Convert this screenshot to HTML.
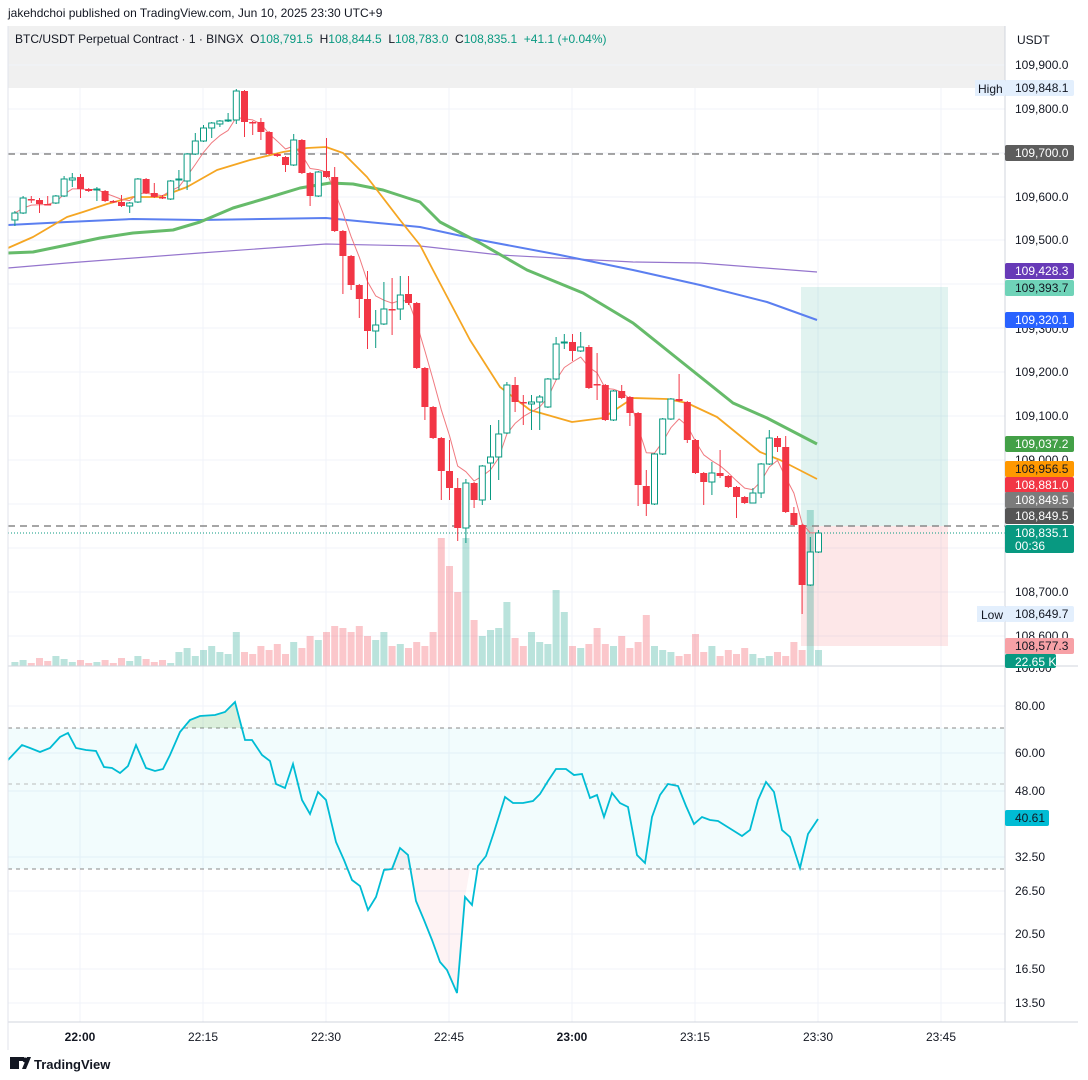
<!DOCTYPE html>
<html><head><meta charset="utf-8"><style>
body{margin:0;background:#fff;font-family:"Liberation Sans",sans-serif;}
svg{display:block}
</style></head><body>
<svg id="s" width="1088" height="1080" xmlns="http://www.w3.org/2000/svg" font-family="Liberation Sans, sans-serif">
<rect width="1088" height="1080" fill="#fff"/>
<text x="8" y="17" font-size="12" fill="#131722">jakehdchoi published on TradingView.com, Jun 10, 2025 23:30 UTC+9</text>
<rect x="8" y="26" width="997" height="62" fill="#f0f0f0"/>
<g id="grid" stroke="#f0f3fa" stroke-width="1"></g>
<rect x="801" y="287" width="147" height="239" fill="#089981" fill-opacity="0.12"/>
<rect x="801" y="526" width="147" height="120" fill="#f23645" fill-opacity="0.12"/>
<rect x="8" y="728" width="997" height="141" fill="#00bcd4" fill-opacity="0.05"/>
<g id="vol"></g>
<line x1="8" y1="154" x2="1005" y2="154" stroke="#888" stroke-width="1.5" stroke-dasharray="7,5"/>
<line x1="8" y1="526" x2="1005" y2="526" stroke="#888" stroke-width="1.5" stroke-dasharray="7,5"/>
<line x1="8" y1="533" x2="1005" y2="533" stroke="#089981" stroke-width="1" stroke-dasharray="1,2"/>
<g id="ma" fill="none"></g>
<g id="candles"></g>
<line x1="8" y1="728" x2="1005" y2="728" stroke="#888" stroke-dasharray="4,4"/>
<line x1="8" y1="784" x2="1005" y2="784" stroke="#bbb" stroke-dasharray="4,4"/>
<line x1="8" y1="869" x2="1005" y2="869" stroke="#888" stroke-dasharray="4,4"/>
<g id="rsi"></g>
<line x1="8" y1="666" x2="1078" y2="666" stroke="#d1d4dc"/>
<line x1="1005" y1="26" x2="1005" y2="1022" stroke="#d1d4dc"/>
<line x1="8" y1="1022" x2="1078" y2="1022" stroke="#d1d4dc"/>
<line x1="8" y1="26" x2="8" y2="1050" stroke="#e0e3eb"/>
<text x="15" y="43" font-size="12" fill="#131722">BTC/USDT Perpetual Contract · 1 · BINGX&#160;&#160;O<tspan fill="#089981">108,791.5</tspan>&#160;&#160;H<tspan fill="#089981">108,844.5</tspan>&#160;&#160;L<tspan fill="#089981">108,783.0</tspan>&#160;&#160;C<tspan fill="#089981">108,835.1</tspan>&#160;&#160;<tspan fill="#089981">+41.1 (+0.04%)</tspan></text>
<text x="1017" y="44" font-size="12" fill="#131722">USDT</text>
<g id="axis" font-size="12" fill="#131722"></g>
<g font-size="12" fill="#131722" text-anchor="middle">
<text x="80" y="1041" font-weight="bold">22:00</text><text x="203" y="1041">22:15</text><text x="326" y="1041">22:30</text><text x="449" y="1041">22:45</text><text x="572" y="1041" font-weight="bold">23:00</text><text x="695" y="1041">23:15</text><text x="818" y="1041">23:30</text><text x="941" y="1041">23:45</text>
</g>
<g transform="translate(10,1057)"><rect x="0" y="0" width="9" height="12" fill="#131722"/><rect x="6" y="0" width="8" height="4" fill="#131722"/><circle cx="15" cy="3" r="2.5" fill="#131722"/><path d="M12 12 L17 0 L21 0 L16 12Z" fill="#131722"/></g>
<text x="34" y="1069" font-size="13" font-weight="bold" fill="#131722">TradingView</text>
</svg>
<script>
const NS="http://www.w3.org/2000/svg";
function el(p,t,a,txt){const e=document.createElementNS(NS,t);for(const k in a)e.setAttribute(k,a[k]);if(txt!==undefined)e.textContent=txt;document.getElementById(p).appendChild(e);return e;}
[80,203,326,449,572,695,818,941].forEach(x=>el("grid","line",{x1:x,y1:88,x2:x,y2:1022}));
[65,109,153,197,240,284,328,372,416,460,504,548,592,636,706,753,791,857,891,934,969,1003].forEach(y=>el("grid","line",{x1:8,y1:y,x2:1005,y2:y}));
const C=[[220,213,211,226],[213,198,196,214],[199,199,196,203],[200,204,198,213],[204,204,196,204],[203,196,195,204],[196,179,176,197],[180,178,173,187],[177,189,174,198],[189,191,188,192],[190,189,187,201],[191,201,190,202],[201,202,200,203],[202,206,195,207],[206,203,202,213],[202,179,178,203],[179,193,178,194],[193,197,183,198],[197,198,195,199],[199,181,180,200],[180,179,170,190],[181,154,153,190],[154,141,133,155],[141,128,125,142],[128,123,122,138],[124,121,120,127],[121,120,113,122],[120,91,89,124],[91,122,90,137],[122,122,121,135],[122,132,118,140],[132,154,131,155],[154,156,153,157],[157,165,156,172],[165,140,134,166],[140,173,139,174],[173,196,172,206],[196,172,171,197],[171,177,138,178],[177,231,167,232],[231,256,230,294],[256,285,255,290],[285,299,284,318],[299,331,271,349],[331,325,310,348],[324,309,282,325],[309,309,278,335],[309,295,276,320],[294,303,276,305],[303,368,302,369],[368,407,367,420],[407,438,406,439],[438,471,437,500],[471,488,440,500],[488,528,478,541],[528,483,479,543],[483,500,482,508],[500,466,465,505],[463,457,425,500],[457,434,420,480],[433,385,382,434],[385,402,377,412],[402,403,395,425],[404,402,395,430],[402,397,395,430],[407,379,378,408],[379,344,337,380],[343,342,334,349],[342,351,334,361],[351,347,332,352],[347,388,345,389],[384,384,353,400],[385,420,384,421],[420,391,390,421],[391,398,385,399],[397,413,396,426],[413,485,412,506],[486,504,470,516],[504,454,453,505],[454,419,418,455],[419,399,398,420],[399,401,374,402],[402,440,401,443],[440,473,439,474],[473,482,472,505],[482,473,462,495],[473,476,450,478],[476,487,475,488],[487,497,486,518],[497,503,496,504],[503,493,488,503],[493,464,463,498],[464,438,430,465],[438,447,436,452],[447,512,436,513],[513,525,507,526],[525,585,524,614],[585,552,537,586],[552,533,530,553]];
const X=i=>14.9+8.2*i;
const V={20:14,21:18,22:10,23:16,24:20,25:14,26:12,27:34,28:14,29:12,30:20,31:16,32:22,33:12,34:24,35:18,36:30,37:26,38:34,39:40,40:38,41:34,42:40,43:30,44:26,45:34,46:20,47:22,48:18,49:24,50:20,51:34,52:128,53:100,54:74,55:128,56:46,57:30,58:36,59:38,60:64,61:28,62:20,63:34,64:24,65:22,66:76,67:54,68:20,69:18,70:22,71:38,72:22,73:20,74:30,75:18,76:24,77:51,78:20,79:16,80:14,81:10,82:12,83:32,84:14,85:20,86:10,87:16,88:12,89:18,90:12,91:8,92:10,93:14,94:10,95:24,96:16,97:156,98:16,99:8};
C.forEach((c,i)=>{const x=X(i);const up=c[1]<c[0];const h=V[i]!==undefined?V[i]:[4,6,3,8,5,10,7,4,6,3][i%10];
el("vol","rect",{x:x-3.5,y:666-h,width:7,height:h,fill:up?"#089981":"#f23645","fill-opacity":0.28});});
C.forEach((c,i)=>{const x=X(i);const up=c[1]<c[0];const col=up?"#089981":"#f23645";
el("candles","line",{x1:x,y1:c[2],x2:x,y2:c[3],stroke:col,"stroke-width":1});
const t=Math.min(c[0],c[1]),b=Math.max(c[0],c[1]);
if(up)el("candles","rect",{x:x-3,y:t,width:6,height:Math.max(b-t,1),fill:"#fff",stroke:col,"stroke-width":1});
else el("candles","rect",{x:x-3.5,y:t,width:7,height:Math.max(b-t,1.5),fill:col});});
function pl(pts,col,w){el("ma","polyline",{points:pts.map(p=>p.join(",")).join(" "),stroke:col,"stroke-width":w,"stroke-linejoin":"round"});}
pl([[8,268],[67,263],[200,253],[326,244],[420,246],[500,255],[633,262],[700,263],[817,272]],"#9575cd",1.2);
pl([[8,225],[67,222],[133,219],[200,220],[326,218],[420,227],[480,240],[560,255],[633,270],[700,285],[767,302],[817,320]],"#5b7ff0",2);
pl([[8,253],[33,252],[67,245],[100,238],[133,233],[173,230],[200,222],[233,208],[267,198],[300,188],[330,183],[353,184],[383,190],[420,202],[440,222],[480,243],[527,270],[583,293],[633,323],[683,363],[733,403],[767,418],[817,444]],"#66bb6a",3);
pl([[8,248],[33,237],[67,217],[83,212],[107,204],[133,197],[160,197],[187,187],[217,170],[250,160],[283,152],[307,148],[326,147],[343,153],[367,177],[400,220],[420,245],[433,270],[470,340],[500,387],[530,410],[572,422],[603,418],[633,398],[667,399],[687,403],[717,417],[760,452],[780,460],[817,479]],"#f5a623",1.8);
let e=C[0][1],pts=[];C.forEach((c,i)=>{e=e+(c[1]-e)*0.33;pts.push([X(i).toFixed(1),e.toFixed(1)]);});pl(pts,"#f07a80",1);
const R=[[8,760],[22,745],[30,748],[40,752],[50,748],[60,737],[68,733],[76,748],[86,750],[96,751],[104,767],[112,768],[120,773],[128,766],[136,745],[146,768],[155,771],[163,769],[170,755],[180,732],[190,720],[200,716],[215,715],[225,712],[235,702],[245,740],[252,740],[262,755],[270,761],[276,784],[285,788],[293,764],[302,800],[310,814],[318,792],[326,800],[336,842],[344,860],[352,880],[360,886],[368,910],[376,897],[384,870],[392,869],[400,848],[408,855],[416,901],[424,920],[432,940],[440,962],[447,970],[457,993],[465,897],[472,905],[478,866],[486,856],[494,832],[505,797],[513,803],[523,803],[533,801],[540,794],[548,781],[556,769],[566,769],[574,775],[582,774],[590,798],[597,795],[604,817],[612,793],[620,803],[628,807],[637,855],[645,863],[652,817],[660,795],[668,784],[678,786],[686,806],[694,824],[702,817],[710,820],[718,821],[726,826],[734,831],[742,836],[750,830],[758,800],[766,782],[774,792],[782,830],[790,837],[800,868],[808,834],[818,819]];
el("rsi","path",{d:"M186,728 L190,720 200,716 215,715 225,712 235,702 242,728Z",fill:"#4caf50","fill-opacity":0.2});
el("rsi","path",{d:"M390,869 L400,848 408,855 416,901 424,920 432,940 440,962 447,970 457,993 465,897 470,869Z",fill:"#f23645","fill-opacity":0.06});
el("rsi","polyline",{points:R.map(p=>p.join(",")).join(" "),fill:"none",stroke:"#00bcd4","stroke-width":1.8});
[["109,900.0",65],["109,800.0",109],["109,600.0",197],["109,500.0",240],["109,300.0",329],["109,200.0",372],["109,100.0",416],["109,000.0",460],["108,700.0",592],["108,600.0",636],["100.00",668],["80.00",706],["60.00",753],["48.00",791],["32.50",857],["26.50",891],["20.50",934],["16.50",969],["13.50",1003]].forEach(a=>el("axis","text",{x:1015,y:a[1]+4},a[0]));
function badge(y,h,bg,fg,t,w){el("axis","rect",{x:1005,y:y,width:w||69,height:h,rx:2,fill:bg});el("axis","text",{x:1015,y:y+12,fill:fg},t);}
el("axis","rect",{x:975,y:80,width:30,height:16,fill:"#e3effd"});el("axis","text",{x:978,y:93},"High");
badge(80,16,"#e3effd","#131722","109,848.1");
badge(145,16,"#5d5d5d","#fff","109,700.0");
badge(263,16,"#673ab7","#fff","109,428.3");
badge(280,16,"#6fd3b8","#131722","109,393.7");
badge(312,16,"#2962ff","#fff","109,320.1");
badge(436,16,"#43a047","#fff","109,037.2");
badge(461,16,"#ff9800","#131722","108,956.5");
badge(477,16,"#f23645","#fff","108,881.0");
badge(492,16,"#7b7b7b","#fff","108,849.5");
badge(508,16,"#555","#fff","108,849.5");
el("axis","rect",{x:1005,y:525,width:69,height:28,rx:2,fill:"#089981"});
el("axis","text",{x:1015,y:537,fill:"#fff"},"108,835.1");el("axis","text",{x:1015,y:550,fill:"#fff"},"00:36");
el("axis","rect",{x:977,y:606,width:28,height:16,fill:"#e3effd"});el("axis","text",{x:981,y:619},"Low");
badge(606,16,"#e3effd","#131722","108,649.7");
badge(638,16,"#f7a1a6","#131722","108,577.3");
badge(654,14,"#089981","#fff","22.65 K",51);
badge(810,16,"#00bcd4","#131722","40.61",44);
</script>
</body></html>
